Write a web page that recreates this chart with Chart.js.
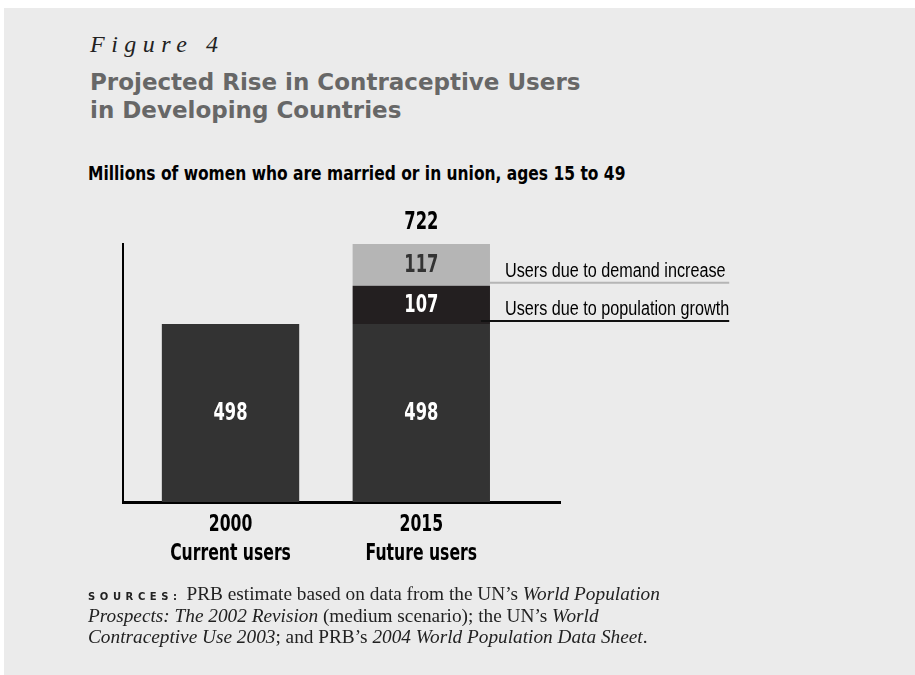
<!DOCTYPE html>
<html>
<head>
<meta charset="utf-8">
<script src="https://cdn.jsdelivr.net/npm/chart.js@4"></script>
<style>
    body { margin: 0; background: #fff; width: 915px; height: 675px; position: relative; overflow: hidden; }
    #panel { position: absolute; left: 4px; top: 8px; right: 0; bottom: 0; background: #ebebeb; }
    .txt { position: absolute; left: 90px; white-space: nowrap; }
    #fig { top: 32px; font: italic 24px 'Liberation Serif', serif; line-height: 24px; letter-spacing: 6.5px; color: #222; }
    #title { top: 69px; font: 700 23px 'DejaVu Sans', sans-serif; line-height: 27.5px; color: #676767; }
    #sub { left: 88px; top: 164px; font: 700 19px 'DejaVu Sans', sans-serif; line-height: 19px; color: #000;
           transform: scaleX(0.815); transform-origin: 0 0; }
    #src { left: 88px; top: 583px; font: 19.3px 'Liberation Serif', serif; line-height: 21.5px; color: #222; }
    #src b { font: 900 10px 'DejaVu Sans', sans-serif; letter-spacing: 4.6px; }
    #chartWrap { position: absolute; left: 0; top: 0; }
</style>
</head>
<body>
<div id="panel"></div>
<div class="txt" id="fig">Figure 4</div>
<div class="txt" id="title">Projected Rise in Contraceptive Users<br>in Developing Countries</div>
<div class="txt" id="sub">Millions of women who are married or in union, ages 15 to 49</div>
<div id="chartWrap"><canvas id="usersChart" width="915" height="675"></canvas></div>
<div class="txt" id="src"><b>SOURCES:</b> PRB estimate based on data from the UN’s <i>World Population</i><br><i>Prospects: The 2002 Revision</i> (medium scenario); the UN’s <i>World</i><br><i>Contraceptive Use 2003</i>; and PRB’s <i>2004 World Population Data Sheet</i>.</div>

<script>
// Chart data
const years = ['2000', '2015'];
const yearNotes = ['Current users', 'Future users'];
const currentUsers = [498, 498];
const growthUsers = [null, 107];
const demandUsers = [null, 117];
const seriesNames = ['Current users', 'Users due to population growth', 'Users due to demand increase'];

const heavy = "'DejaVu Sans', sans-serif";
const plain = "'Liberation Sans', Arial, sans-serif";

function toPoints(values) {
    return values.map((v, i) => ({ x: i, y: v }));
}

const stackTotal = currentUsers.map((v, i) => v + (growthUsers[i] || 0) + (demandUsers[i] || 0));

// no condensed face is installed, so text is narrowed by hand
function narrowText(ctx, text, x, y, squeeze) {
    ctx.save();
    ctx.translate(x, y);
    ctx.scale(squeeze, 1);
    ctx.fillText(text, 0, 0);
    ctx.restore();
}

// Draws the numbers inside bars, the total, the x labels and the side notes
const barLabels = {
    id: 'barLabels',
    afterDatasetsDraw(chart) {
        const ctx = chart.ctx;
        const colors = ['#ffffff', '#ffffff', '#333333'];
        ctx.save();
        ctx.textAlign = 'center';
        ctx.textBaseline = 'middle';
        ctx.font = 'bold 24px ' + heavy;
        chart.data.datasets.forEach((ds, d) => {
            chart.getDatasetMeta(d).data.forEach((el, i) => {
                if (ds.data[i].y == null) return;
                ctx.fillStyle = colors[d];
                narrowText(ctx, String(ds.data[i].y), el.x, (el.y + el.base) / 2 + 1, 0.68);
            });
        });

        // total above the stacked bar
        const last = years.length - 1;
        const topEl = chart.getDatasetMeta(2).data[last];
        ctx.fillStyle = '#000';
        narrowText(ctx, String(stackTotal[last]), topEl.x, topEl.y - 21, 0.68);

        // category labels under the axis
        const xScale = chart.scales.x;
        ctx.font = 'bold 23px ' + heavy;
        xScale.ticks.forEach(t => {
            const px = xScale.getPixelForValue(t.value);
            narrowText(ctx, years[t.value], px, xScale.top + 23, 0.68);
            narrowText(ctx, yearNotes[t.value], px, xScale.top + 52, 0.68);
        });

        // notes to the right of the stack
        const noteSqueeze = 0.81;
        ctx.font = '20px ' + plain;
        ctx.textAlign = 'left';
        ctx.textBaseline = 'alphabetic';
        const notes = [1, 2];
        const textX = topEl.x + topEl.width / 2 + 15;
        const widest = Math.max(...notes.map(d => ctx.measureText(seriesNames[d]).width)) * noteSqueeze;
        const lineColor = { 1: '#111111', 2: '#b5b5b5' };
        notes.forEach(d => {
            const el = chart.getDatasetMeta(d).data[last];
            const right = el.x + el.width / 2;
            const ly = el.base - 3;
            ctx.fillStyle = '#000';
            narrowText(ctx, seriesNames[d], textX, ly - 6, noteSqueeze);
            ctx.strokeStyle = lineColor[d];
            ctx.lineWidth = 2;
            ctx.beginPath();
            ctx.moveTo(d === 1 ? right - 9 : right, ly);
            ctx.lineTo(textX + widest, ly);
            ctx.stroke();
        });
        ctx.restore();
    }
};

const ctx = document.getElementById('usersChart').getContext('2d');
new Chart(ctx, {
    type: 'bar',
    data: {
        datasets: [{
            label: seriesNames[0],
            data: toPoints(currentUsers),
            backgroundColor: '#333333'
        }, {
            label: seriesNames[1],
            data: toPoints(growthUsers),
            backgroundColor: '#231f20'
        }, {
            label: seriesNames[2],
            data: toPoints(demandUsers),
            backgroundColor: '#b5b5b5'
        }]
    },
    options: {
        responsive: false,
        animation: false,
        barPercentage: 1,
        categoryPercentage: 0.72,
        layout: {
            padding: { left: 123, right: 355, top: 244, bottom: 103 }
        },
        scales: {
            x: {
                type: 'linear',
                stacked: true,
                offset: false,
                min: -0.5636,
                max: 1.727,
                afterFit: function(scale) { scale.height = 70; },
                afterBuildTicks: function(scale) {
                    scale.ticks = years.map((y, i) => ({ value: i }));
                },
                grid: { display: false, drawTicks: false },
                border: { display: true, color: '#000', width: 3 },
                ticks: { display: false }
            },
            y: {
                stacked: true,
                min: 0,
                max: Math.max(...stackTotal),
                afterFit: function(scale) { scale.width = 0; },
                grid: { display: false, drawTicks: false },
                border: { display: true, color: '#000', width: 2 },
                ticks: { display: false }
            }
        },
        plugins: {
            legend: { display: false },
            tooltip: { enabled: false }
        }
    },
    plugins: [barLabels]
});
</script>
</body>
</html>
